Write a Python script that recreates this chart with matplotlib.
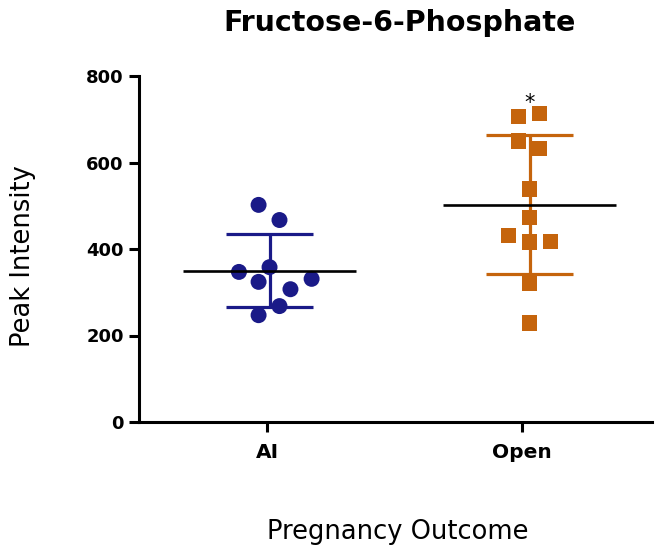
import numpy as np
import matplotlib
matplotlib.use("Agg")
import matplotlib.pyplot as plt

# Data
categories = ["AI", "Open"]
ai_values = [502, 467, 347, 358, 324, 331, 307, 268, 247]
ai_offsets = [-0.043, 0.039, -0.12, 0.0, -0.043, 0.165, 0.082, 0.039, -0.043]
open_values = [707, 714, 650, 633, 539, 472, 432, 416, 418, 321, 229]
open_offsets = [-0.043, 0.039, -0.043, 0.039, 0.0, 0.0, -0.082, 0.0, 0.082, 0.0, 0.0]
tick_positions = [0, 1]
group_centers = [0.01, 1.03]
y_ticks = [0, 200, 400, 600, 800]
colors = ["#1a1a88", "#c5640c"]
markers = ["o", "s"]

plt.rcParams['font.family'] = ['DejaVu Sans']

fig = plt.figure(figsize=(6.63, 5.50), dpi=100)
ax = fig.add_axes([139/663, 1 - 422/550, (652 - 139)/663, (422 - 76)/550])

groups = [(ai_values, ai_offsets), (open_values, open_offsets)]
for i, (vals, offs) in enumerate(groups):
    vals = np.array(vals, dtype=float)
    cx = group_centers[i]
    m = vals.mean()
    sd = vals.std(ddof=1)
    c = colors[i]
    # SD stem and caps
    ax.plot([cx, cx], [m - sd, m + sd], color=c, lw=2.3, zorder=2, solid_capstyle='butt')
    for y in (m - sd, m + sd):
        ax.plot([cx - 0.17, cx + 0.17], [y, y], color=c, lw=2.3, zorder=2, solid_capstyle='butt')
    # points
    ax.scatter(cx + np.array(offs), vals, marker=markers[i], s=(11.5 if i == 0 else 11)**2,
               color=c, edgecolors='none', zorder=3, clip_on=False)
    # mean line
    ax.plot([cx - 0.34, cx + 0.34], [m, m], color='black', lw=1.9, zorder=4, solid_capstyle='butt')

ax.text(group_centers[1], 737, "*", ha='center', va='center', fontsize=15, color='black')

ax.set_xlim(-0.502, 1.510)
ax.set_ylim(0, 800)
ax.set_yticks(y_ticks)
ax.set_xticks(tick_positions)
ax.set_xticklabels(categories)

for s in ['top', 'right']:
    ax.spines[s].set_visible(False)
for s in ['left', 'bottom']:
    ax.spines[s].set_linewidth(2.2)
ax.tick_params(axis='both', width=2.2, length=7, direction='out', labelsize=13, pad=4)
ax.tick_params(axis='x', pad=8, labelsize=14.5)
for lab in ax.get_xticklabels() + ax.get_yticklabels():
    lab.set_fontweight('bold')

fig.text(400/663, 1 - 23/550, "Fructose-6-Phosphate", ha='center', va='center',
         fontsize=20.5, fontweight='bold')
fig.text(23/663, 1 - 256/550, "Peak Intensity", ha='center', va='center',
         rotation=90, fontsize=18.5)
fig.text(398/663, 1 - 532/550, "Pregnancy Outcome", ha='center', va='center', fontsize=18.5)

fig.savefig("out.png", dpi=100)
